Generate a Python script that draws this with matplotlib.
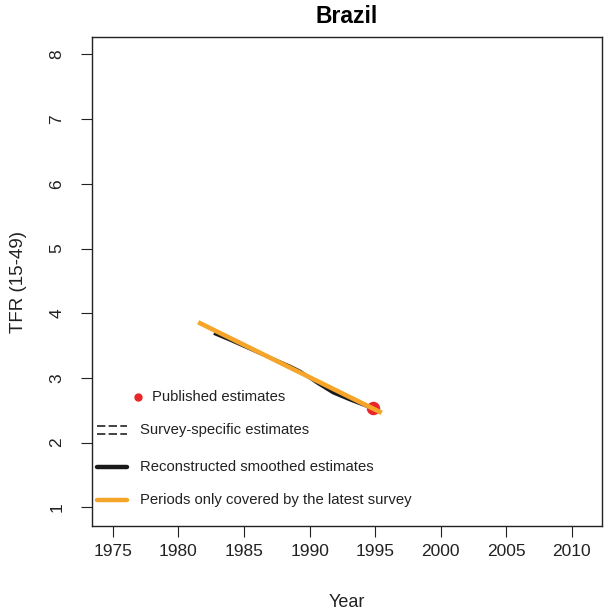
import numpy as np
import matplotlib.pyplot as plt

plt.rcParams["font.family"] = ["Liberation Sans", "DejaVu Sans"]

# ===================== data =====================
country = "Brazil"
smooth_years = [1982.7, 1984.0, 1986.0, 1988.5, 1989.3, 1990.6, 1991.8, 1993.1, 1994.4]
smooth_tfr = [3.69, 3.58, 3.40, 3.18, 3.10, 2.92, 2.77, 2.66, 2.56]
latest_years = [1981.5, 1995.5]
latest_tfr = [3.86, 2.46]
pub_years = [1994.8]
pub_tfr = [2.54]

legend_labels = ["Published estimates", "Survey-specific estimates",
                 "Reconstructed smoothed estimates", "Periods only covered by the latest survey"]

TXT = "#222222"
ORANGE = "#f5a52a"
RED = "#e8262a"

fig = plt.figure(figsize=(6.05, 6.16), dpi=100)
ax = fig.add_axes([0.152, 0.146, 0.843, 0.794])

ax.plot(smooth_years, smooth_tfr, color="#1a1a1a", lw=2.4, solid_capstyle="butt")
ax.plot(latest_years, latest_tfr, color=ORANGE, lw=3.3, solid_capstyle="butt")
ax.scatter(pub_years, pub_tfr, color=RED, s=75, zorder=1)

ax.set_xlim(1973.4, 2012.3)
ax.set_ylim(0.71, 8.27)
ax.set_xticks(np.arange(1975, 2011, 5))
ax.set_yticks(np.arange(1, 9, 1))
for lab in ax.get_yticklabels():
    lab.set_rotation(90)
    lab.set_va("center")
ax.tick_params(labelsize=12.5, length=8, colors=TXT)
ax.tick_params(axis="x", pad=5)
ax.tick_params(axis="y", pad=12)
ax.set_title(country, fontsize=16.5, fontweight="bold", pad=10)
ax.set_xlabel("Year", fontsize=13, labelpad=25, color=TXT)
ax.set_ylabel("TFR (15-49)", fontsize=13.5, labelpad=16, color=TXT)
for s in ax.spines.values():
    s.set_linewidth(1.0)
    s.set_color(TXT)

# ===================== legend (R style, no box) =====================
tr = ax.transAxes
row_y = [0.264, 0.196, 0.121, 0.053]
hx0, hx1, tx = 0.010, 0.069, 0.094
fs = 10.7
ax.plot([0.090], [row_y[0]], marker="o", color=RED, ms=5, transform=tr, clip_on=False)
ax.text(0.118, row_y[0], legend_labels[0], transform=tr, va="center", fontsize=fs, color=TXT)
for dy in (0.008, -0.008):
    ax.plot([hx0, hx1], [row_y[1] + dy] * 2, color=TXT, lw=1.2, ls=(0, (5, 2)),
            transform=tr, clip_on=False)
ax.text(tx, row_y[1], legend_labels[1], transform=tr, va="center", fontsize=fs, color=TXT)
ax.plot([hx0, hx1], [row_y[2]] * 2, color="#1a1a1a", lw=3.2, transform=tr,
        solid_capstyle="round", clip_on=False)
ax.text(tx, row_y[2], legend_labels[2], transform=tr, va="center", fontsize=fs, color=TXT)
ax.plot([hx0, hx1], [row_y[3]] * 2, color=ORANGE, lw=3.2, transform=tr,
        solid_capstyle="round", clip_on=False)
ax.text(tx, row_y[3], legend_labels[3], transform=tr, va="center", fontsize=fs, color=TXT)

fig.savefig("out.png", dpi=100)
